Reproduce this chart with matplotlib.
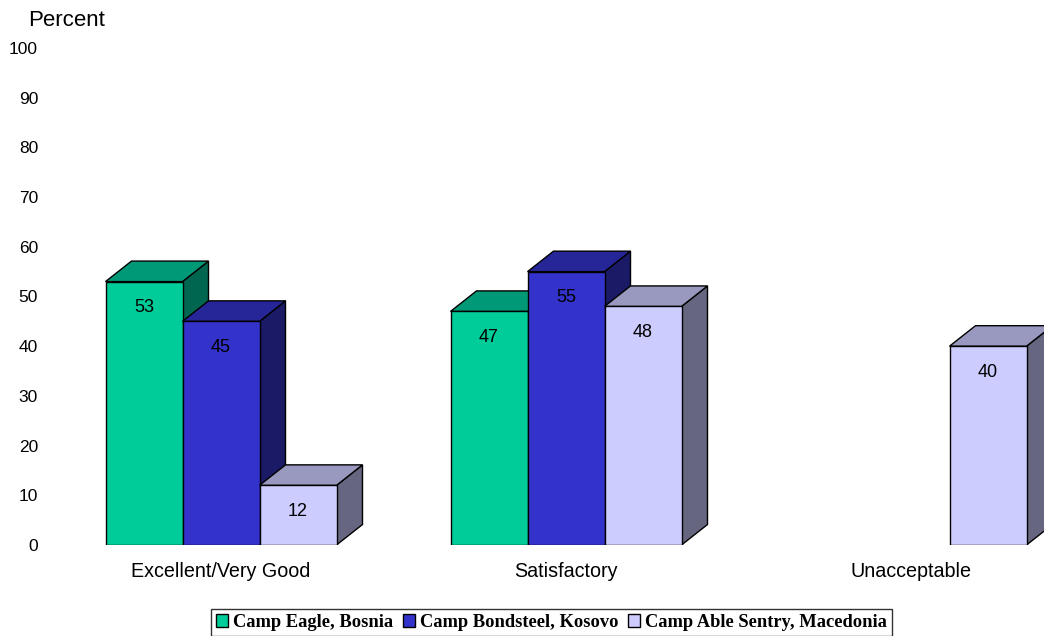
import matplotlib
matplotlib.use("Agg")
import matplotlib.pyplot as plt
from matplotlib.patches import Polygon, Patch
import numpy as np

categories = ["Excellent/Very Good", "Satisfactory", "Unacceptable"]
series_names = ["Camp Eagle, Bosnia", "Camp Bondsteel, Kosovo", "Camp Able Sentry, Macedonia"]
eagle = [53, 47, 0]
bondsteel = [45, 55, 0]
able_sentry = [12, 48, 40]
yticks = [0, 10, 20, 30, 40, 50, 60, 70, 80, 90, 100]

front_colors = ["#00CC99", "#3333CC", "#CCCCFF"]
top_colors = ["#009977", "#262699", "#9999C0"]
side_colors = ["#006650", "#1A1A66", "#666680"]

plt.rcParams['font.family'] = ['Liberation Sans', 'DejaVu Sans']

W, H = 1044, 636
fig = plt.figure(figsize=(W / 100, H / 100), dpi=100)
ax_l, ax_r, ax_b, ax_t = 45, 1044, 545, 48
ax = fig.add_axes([ax_l / W, (H - ax_b) / H, (ax_r - ax_l) / W, (ax_b - ax_t) / H])

px_per_group = 345.0
x0_px = 221.0
ax.set_xlim((ax_l - x0_px) / px_per_group, (ax_r - x0_px) / px_per_group)
ax.set_ylim(0, 100)
px_per_unit = (ax_b - ax_t) / 100.0

bar_w = 77.0 / px_per_group
dx = 26.0 / px_per_group
dy = 20.5 / px_per_unit

all_series = [eagle, bondsteel, able_sentry]
x = np.arange(len(categories))
for gi in range(len(categories)):
    for si, vals in enumerate(all_series):
        v = vals[gi]
        if v <= 0:
            continue
        xc = x[gi] + (si - 1) * bar_w
        xl, xr = xc - bar_w / 2, xc + bar_w / 2
        side = Polygon([(xr, 0), (xr + dx, dy), (xr + dx, v + dy), (xr, v)],
                       closed=True, facecolor=side_colors[si], edgecolor="black", lw=1.0, zorder=2)
        top = Polygon([(xl, v), (xl + dx, v + dy), (xr + dx, v + dy), (xr, v)],
                      closed=True, facecolor=top_colors[si], edgecolor="black", lw=1.0, zorder=2)
        ax.add_patch(side)
        ax.add_patch(top)
        ax.bar(xc, v, width=bar_w, color=front_colors[si], edgecolor="black", lw=1.0, zorder=2)
        ax.text(xc, v - 26 / px_per_unit, f"{v}", ha="center", va="center", fontsize=13,
                color="black", zorder=3)

for s in ax.spines.values():
    s.set_visible(False)
ax.set_yticks(yticks)
ax.set_yticklabels([str(t) for t in yticks], fontsize=12.5)
ax.tick_params(axis="y", length=0, pad=5)
ax.set_xticks(x)
ax.set_xticklabels(categories, fontsize=14.2)
ax.tick_params(axis="x", length=0, pad=12)

fig.text(28 / W, 1 - 20 / H, "Percent", ha="left", va="center", fontsize=16)

handles = [Patch(facecolor=c, edgecolor="black", lw=1.0) for c in front_colors]
leg = fig.legend(handles, series_names, loc="center", bbox_to_anchor=(551.5 / W, 1 - 622.5 / H),
                 ncol=3, frameon=True, fancybox=False, edgecolor="black",
                 prop={"family": "Liberation Serif", "weight": "bold", "size": 13.3},
                 handlelength=0.65, handleheight=0.65, handletextpad=0.3, columnspacing=0.5,
                 borderpad=0.25, borderaxespad=0)
leg.get_frame().set_linewidth(1.0)

fig.savefig("out.png", dpi=100)
